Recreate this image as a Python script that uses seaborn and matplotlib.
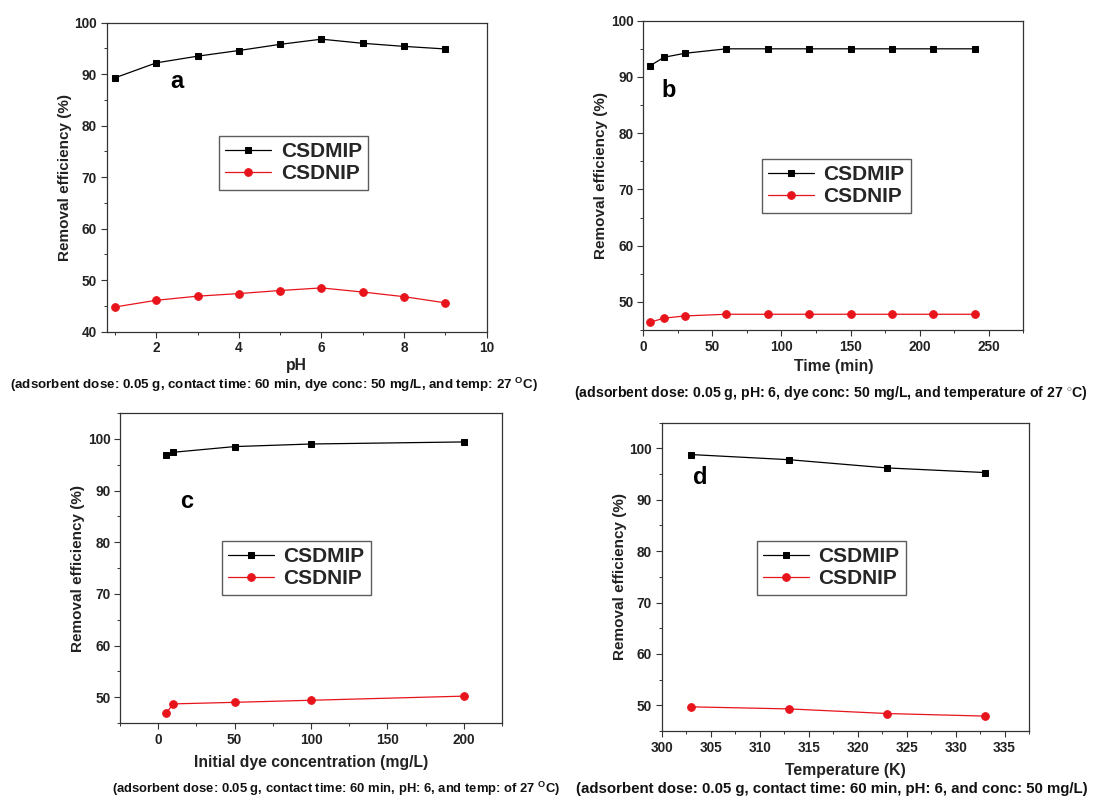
import matplotlib
matplotlib.use("Agg")
import matplotlib.pyplot as plt
from matplotlib.ticker import MultipleLocator
import seaborn as sns

sns.set_theme(style="white")
plt.rcParams['font.family'] = ['Liberation Sans', 'DejaVu Sans']
plt.rcParams['font.weight'] = 'bold'
plt.rcParams['mathtext.fontset'] = 'custom'
plt.rcParams['mathtext.rm'] = 'Liberation Sans:bold'
plt.rcParams['mathtext.bf'] = 'Liberation Sans:bold'

# ---- data ----
ph = [1, 2, 3, 4, 5, 6, 7, 8, 9]
ph_mip = [89.3, 92.2, 93.5, 94.6, 95.8, 96.8, 96.0, 95.4, 94.9]
ph_nip = [44.8, 46.1, 46.9, 47.4, 48.0, 48.5, 47.7, 46.8, 45.6]

time_min = [5, 15, 30, 60, 90, 120, 150, 180, 210, 240]
time_mip = [92.0, 93.5, 94.2, 95.0, 95.0, 95.0, 95.0, 95.0, 95.0, 95.0]
time_nip = [46.4, 47.1, 47.5, 47.8, 47.8, 47.8, 47.8, 47.8, 47.8, 47.8]

conc = [5, 10, 50, 100, 200]
conc_mip = [96.8, 97.4, 98.5, 99.0, 99.4]
conc_nip = [46.9, 48.7, 49.0, 49.4, 50.2]

temp_k = [303, 313, 323, 333]
temp_mip = [98.8, 97.8, 96.2, 95.3]
temp_nip = [49.7, 49.3, 48.4, 47.9]

series_names = ["CSDMIP", "CSDNIP"]
panel_letters = ["a", "b", "c", "d"]
x_labels = ["pH", "Time (min)", "Initial dye concentration (mg/L)", "Temperature (K)"]
y_label = "Removal efficiency (%)"
captions = [
    "(adsorbent dose: 0.05 g, contact time: 60 min, dye conc: 50 mg/L, and temp: 27 $^{\\mathbf{O}}$C)",
    "(adsorbent dose: 0.05 g, pH: 6, dye conc: 50 mg/L, and temperature of 27 $^{\\circ}$C)",
    "(adsorbent dose: 0.05 g, contact time: 60 min, pH: 6, and temp: of 27 $^{\\mathbf{O}}$C)",
    "(adsorbent dose: 0.05 g, contact time: 60 min, pH: 6, and conc: 50 mg/L)",
]

W, H = 1104, 796
fig = plt.figure(figsize=(W / 100, H / 100), dpi=100)
fig.patch.set_facecolor("white")


def px_axes(l, r, t, b):
    return fig.add_axes([l / W, 1 - b / H, (r - l) / W, (b - t) / H])


RED = "#e8141c"

panels = [
    dict(box=(106.7, 486.7, 22.7, 331.7), x=ph, mip=ph_mip, nip=ph_nip,
         xlim=(0.8, 10), ylim=(40, 100), xmaj=2, xmin=1, ymaj=10, ymin=5,
         letter=(2.5, 88.6), leg=(0.296, 0.633), cap=(274, 385), capsize=9.6,
         xpad=2),
    dict(box=(643.3, 1023.3, 20.7, 330), x=time_min, mip=time_mip, nip=time_nip,
         xlim=(0, 275), ylim=(45, 100), xmaj=50, xmin=25, ymaj=10, ymin=5,
         letter=(18, 87.6), leg=(0.312, 0.553), cap=(831, 393), capsize=10.2,
         xpad=4),
    dict(box=(120, 502, 413, 723), x=conc, mip=conc_mip, nip=conc_nip,
         xlim=(-25, 225), ylim=(45, 105), xmaj=50, xmin=25, ymaj=10, ymin=5,
         letter=(18.5, 87.9), leg=(0.267, 0.587), cap=(336, 789), capsize=9.4,
         xpad=6),
    dict(box=(661.7, 1029, 422.7, 731), x=temp_k, mip=temp_mip, nip=temp_nip,
         xlim=(300, 337.5), ylim=(45, 105), xmaj=5, xmin=2.5, ymaj=10, ymin=5,
         letter=(303.9, 94.3), leg=(0.259, 0.616), cap=(832, 789), capsize=10.8,
         xpad=6),
]

for i, p in enumerate(panels):
    ax = px_axes(*p["box"])
    sns.lineplot(x=p["x"], y=p["mip"], ax=ax, color="black", marker="s",
                 markersize=5, markeredgecolor="black", linewidth=0.9,
                 label=series_names[0])
    sns.lineplot(x=p["x"], y=p["nip"], ax=ax, color=RED, marker="o",
                 markersize=5.5, markeredgecolor=RED, linewidth=0.9,
                 label=series_names[1])
    ax.set_xlim(*p["xlim"])
    ax.set_ylim(*p["ylim"])
    ax.xaxis.set_major_locator(MultipleLocator(p["xmaj"]))
    ax.xaxis.set_minor_locator(MultipleLocator(p["xmin"]))
    ax.yaxis.set_major_locator(MultipleLocator(p["ymaj"]))
    ax.yaxis.set_minor_locator(MultipleLocator(p["ymin"]))
    ax.tick_params(which="major", direction="out", length=4, width=0.8,
                   color="#333333", labelsize=9.8, pad=3,
                   bottom=True, left=True, top=False, right=False)
    ax.tick_params(which="minor", direction="out", length=2.5, width=0.7,
                   color="#333333", bottom=True, left=True, top=False, right=False)
    for lab in ax.get_xticklabels() + ax.get_yticklabels():
        lab.set_fontweight("bold")
        lab.set_color("#222222")
    for s in ax.spines.values():
        s.set_color("#333333")
        s.set_linewidth(0.9)
    ax.set_xlabel(x_labels[i], fontsize=11.3, fontweight="bold", color="#222222",
                  labelpad=p["xpad"])
    ax.set_ylabel(y_label, fontsize=11, fontweight="bold", color="#222222",
                  labelpad=2)
    ax.text(p["letter"][0], p["letter"][1], panel_letters[i], fontsize=17,
            fontweight="bold", color="black", ha="center", va="center")
    leg = ax.legend(loc="upper left", bbox_to_anchor=p["leg"], borderaxespad=0,
                    frameon=True, fancybox=False, shadow=False,
                    handlelength=2.2, handletextpad=0.45, borderpad=0.3,
                    labelspacing=0.15, prop={"weight": "bold", "size": 15})
    leg.get_frame().set_edgecolor("#333333")
    leg.get_frame().set_linewidth(1.0)
    fig.text(p["cap"][0] / W, 1 - p["cap"][1] / H, captions[i],
             fontsize=p["capsize"], fontweight="bold", color="#111111",
             ha="center", va="center")

fig.savefig("out.png", dpi=100, facecolor="white")
